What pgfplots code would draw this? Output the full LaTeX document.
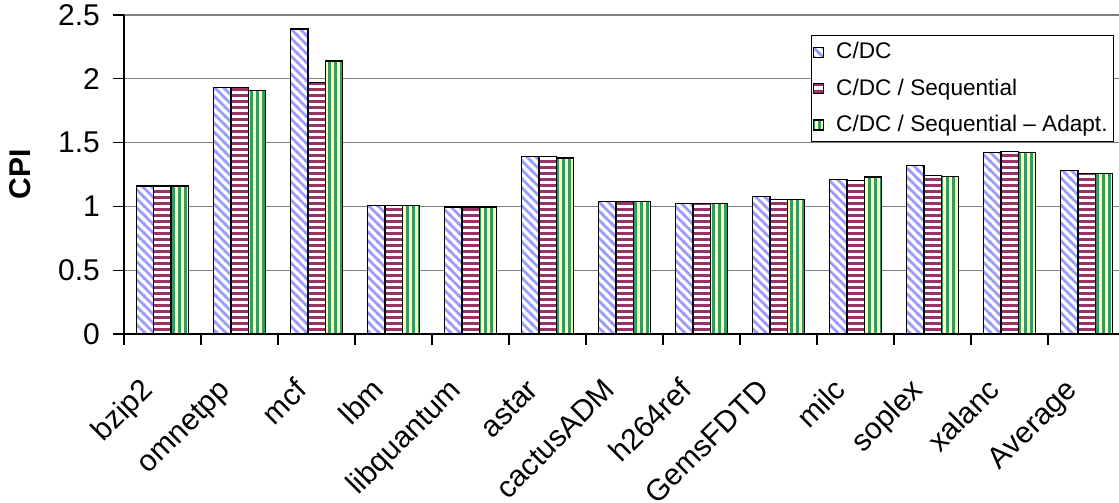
\documentclass[border=0pt]{standalone}
\usepackage{fontspec}
\setmainfont{Liberation Sans}
\usepackage{pgfplots}
\pgfplotsset{compat=1.18}
\usetikzlibrary{patterns}
\definecolor{cblue}{HTML}{9999FF}
\definecolor{cmaroon}{HTML}{993366}
\definecolor{cgreen}{HTML}{339966}
\definecolor{cyellow}{HTML}{FFFFB3}

\pgfdeclarepatternformonly{diagstripes}{\pgfqpoint{-1pt}{-1pt}}{\pgfqpoint{5.5pt}{5.5pt}}{\pgfqpoint{4.5pt}{4.5pt}}{%
  \pgfsetlinewidth{1.4pt}%
  \pgfpathmoveto{\pgfqpoint{-0.5pt}{5pt}}\pgfpathlineto{\pgfqpoint{5pt}{-0.5pt}}\pgfusepath{stroke}}
\pgfdeclarepatternformonly{hstripes}{\pgfqpoint{0pt}{0pt}}{\pgfqpoint{3.2pt}{3.2pt}}{\pgfqpoint{3.2pt}{3.2pt}}{%
  \pgfpathrectangle{\pgfqpoint{0pt}{0pt}}{\pgfqpoint{3.2pt}{1.6pt}}\pgfusepath{fill}}
\pgfdeclarepatternformonly{vstripes}{\pgfqpoint{0pt}{0pt}}{\pgfqpoint{3.2pt}{3.2pt}}{\pgfqpoint{3.2pt}{3.2pt}}{%
  \pgfpathrectangle{\pgfqpoint{0pt}{0pt}}{\pgfqpoint{1.6pt}{3.2pt}}\pgfusepath{fill}}

\begin{document}
\begin{tikzpicture}
\clip (-62pt,-84.5pt) rectangle (497.5pt,167pt);
\begin{axis}[
  at={(0,0)}, anchor=south west,
  scale only axis, width=500.5pt, height=159.5pt,
  xmin=-0.5, xmax=12.5, ymin=0, ymax=2.5,
  ybar=0pt, bar width=8.6pt,
  axis x line*=bottom, axis y line*=left,
  axis line style={black, line width=0.6pt},
  ytick={0,0.5,1,1.5,2,2.5},
  ymajorgrids, major grid style={black!50, line width=0.6pt},
  xtick={0,...,12},
  xticklabels={bzip2,omnetpp,mcf,lbm,libquantum,astar,cactusADM,h264ref,GemsFDTD,milc,soplex,xalanc,Average},
  major x tick style={draw=none},
  minor xtick={-0.5,0.5,...,11.5},
  tick align=outside,
  major tick length=5.5pt, minor tick length=5.5pt,
  tick style={black, line width=0.6pt},
  /pgf/number format/assume math mode=true,
  ticklabel style={font=\fontsize{15}{18}\selectfont},
  yticklabel style={xshift=-3pt},
  xticklabel style={xshift=-1.5pt, yshift=-21pt, rotate=45, anchor=base east},
  ylabel={CPI},
  every axis y label/.style={at={(axis description cs:0,0.5)}, xshift=-52pt, rotate=90, anchor=center, font=\fontsize{15}{18}\selectfont\bfseries},
  legend style={at={(rel axis cs:0.989,0.937)}, anchor=north east, draw=black, fill=white,
    font=\fontsize{11.3}{13.5}\selectfont, inner xsep=1pt, inner ysep=1.5pt, row sep=4.5pt},
  legend cell align=left,
  legend image code/.code={\draw[#1] (0pt,-2.5pt) rectangle (5pt,2.5pt); \path (9pt,0pt);},
]
\addplot[draw=black, line width=0.6pt, preaction={fill=white}, pattern=diagstripes, pattern color=cblue]
  coordinates {(0,1.16) (1,1.93) (2,2.39) (3,1.005) (4,0.995) (5,1.39) (6,1.04) (7,1.025) (8,1.08) (9,1.21) (10,1.32) (11,1.42) (12,1.28)};
\addplot[draw=black, line width=0.6pt, preaction={fill=white}, pattern=hstripes, pattern color=cmaroon]
  coordinates {(0,1.16) (1,1.93) (2,1.97) (3,1.005) (4,0.995) (5,1.39) (6,1.04) (7,1.025) (8,1.055) (9,1.20) (10,1.245) (11,1.43) (12,1.255)};
\addplot[draw=black, line width=0.6pt, preaction={fill=cyellow}, pattern=vstripes, pattern color=cgreen]
  coordinates {(0,1.16) (1,1.91) (2,2.14) (3,1.005) (4,0.995) (5,1.38) (6,1.04) (7,1.025) (8,1.055) (9,1.23) (10,1.235) (11,1.42) (12,1.255)};
\legend{C/DC, C/DC / Sequential, C/DC / Sequential -- Adapt.\hspace{2pt}}
\end{axis}
\end{tikzpicture}
\end{document}
